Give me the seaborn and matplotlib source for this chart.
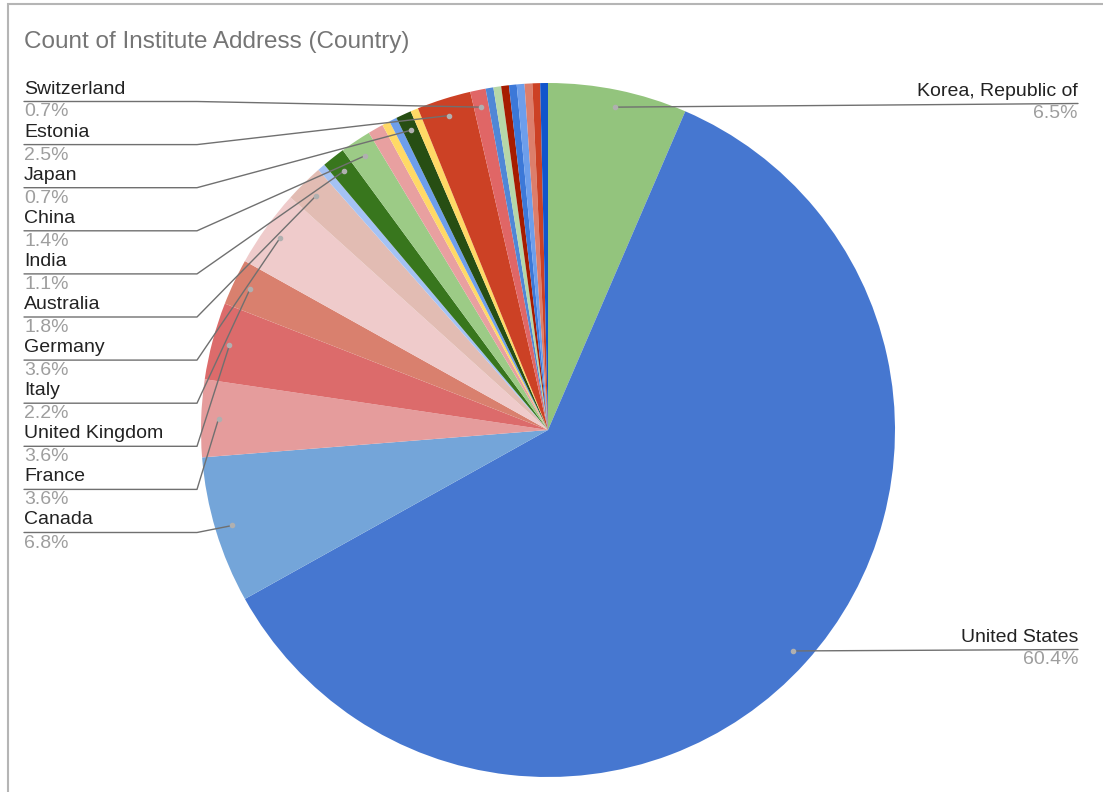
"""
Pie chart - Count of Institute Address (Country)
"""

import numpy as np
import matplotlib.pyplot as plt
import seaborn as sns
from matplotlib.patches import Rectangle

# Slices in clockwise order starting at 12 o'clock ('' = no label shown)
countries = ['Korea, Republic of', 'United States', 'Canada', 'France',
             'United Kingdom', 'Italy', 'Germany', 'Australia', '',
             'India', 'China', '', '', '', 'Japan', '', 'Estonia',
             'Switzerland', '', '', '', '', '', '', '', '']
counts = [18, 168, 19, 10, 10, 6, 10, 5, 1, 3, 4, 2, 1, 1, 2, 1, 7, 2,
          1, 1, 1, 1, 1, 1, 1, 1]
colors = ['#93c47d', '#4677d0', '#74a5d9', '#e59c9c', '#dc6b6b', '#d9806e',
          '#efcbcb', '#e2bcb3', '#a4c2f4', '#38761d', '#9ccb86', '#e8a0a0',
          '#ffd966', '#6d9eeb', '#274e13', '#ffd966', '#cc4125', '#e06666',
          '#4f87d6', '#b6d7a8', '#a61c00', '#3c78d8', '#6d9eeb', '#dd7e6b',
          '#cc4125', '#1155cc']

# label order down the left side, and the two on the right
left_labels = ['Switzerland', 'Estonia', 'Japan', 'China', 'India', 'Australia',
               'Germany', 'Italy', 'United Kingdom', 'France', 'Canada']
right_labels = ['Korea, Republic of', 'United States']

W, H = 1103, 792

sns.set_theme(style='white')
plt.rcParams['font.family'] = ['Liberation Sans', 'DejaVu Sans']

fig = plt.figure(figsize=(W / 100, H / 100), dpi=100)
ax = fig.add_axes([0, 0, 1, 1])


def Y(py):
    return H - py


wedges, _ = ax.pie(counts, colors=colors, startangle=90, counterclock=False,
                   center=(548, Y(430)), radius=347, frame=True,
                   wedgeprops=dict(linewidth=0))
ax.set_xlim(0, W)
ax.set_ylim(0, H)
ax.set_aspect('equal')
ax.axis('off')

total = sum(counts)


def anchor(i, frac=0.95):
    w = wedges[i]
    ang = np.deg2rad((w.theta1 + w.theta2) / 2)
    return w.center[0] + frac * w.r * np.cos(ang), w.center[1] + frac * w.r * np.sin(ang)


line_col = '#707070'
name_col = '#222222'
pct_col = '#9e9e9e'
fs = 14

for k, name in enumerate(left_labels):
    i = countries.index(name)
    py = 89 + 43.1 * k
    pct = counts[i] / total * 100
    ax.text(24, Y(py), name, fontsize=fs, color=name_col, va='center', ha='left')
    ax.text(24, Y(py + 23), f'{pct:.1f}%', fontsize=fs, color=pct_col, va='center', ha='left')
    ax_, ay_ = anchor(i)
    ax.plot([24, 197, ax_], [Y(py + 12.5), Y(py + 12.5), ay_], color=line_col, lw=1)
    ax.plot(ax_, ay_, 'o', color='#b0b0b0', ms=3)

for name, py in zip(right_labels, [91, 637]):
    i = countries.index(name)
    pct = counts[i] / total * 100
    ax.text(1078, Y(py), name, fontsize=fs, color=name_col, va='center', ha='right')
    ax.text(1078, Y(py + 23), f'{pct:.1f}%', fontsize=fs, color=pct_col, va='center', ha='right')
    ax_, ay_ = anchor(i)
    ax.plot([1078, ax_], [Y(py + 12.5), ay_], color=line_col, lw=1)
    ax.plot(ax_, ay_, 'o', color='#b0b0b0', ms=3)

ax.text(24, Y(42), 'Count of Institute Address (Country)', fontsize=17.5,
        color='#757575', va='center', ha='left')

# frame of the chart card
ax.add_patch(Rectangle((8, -20), W + 40, Y(4) + 20, fill=False,
                       edgecolor='#b5b5b5', lw=1.5, clip_on=False))

fig.savefig('out.png', dpi=100)
